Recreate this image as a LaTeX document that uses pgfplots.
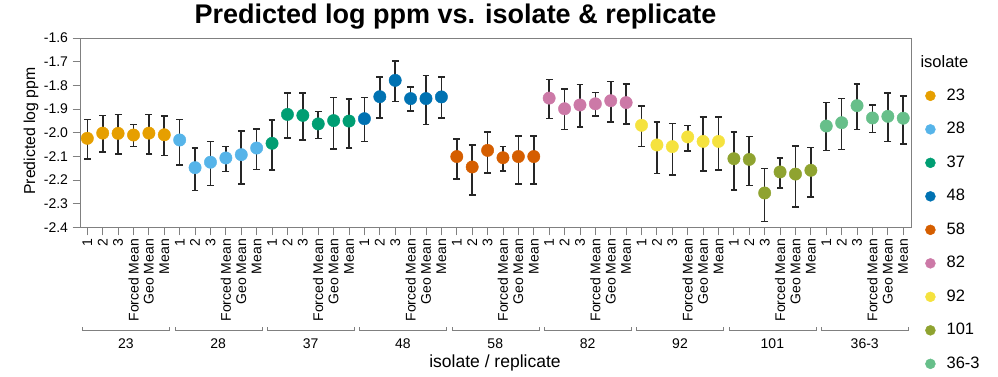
\documentclass[border=0pt]{standalone}
\usepackage{fontspec}
\setmainfont{Liberation Sans}
\usepackage{pgfplots}
\pgfplotsset{compat=1.18}
\usepackage{pgfplotstable}
\definecolor{c23}{HTML}{E69F00}
\definecolor{c28}{HTML}{56B4E9}
\definecolor{c37}{HTML}{009E73}
\definecolor{c48}{HTML}{0072B2}
\definecolor{c58}{HTML}{D55E00}
\definecolor{c82}{HTML}{CC79A7}
\definecolor{c92}{HTML}{F5E23E}
\definecolor{c101}{HTML}{8FA330}
\definecolor{c363}{HTML}{67BF8A}
\definecolor{axgray}{HTML}{808080}

\pgfplotstableread{
x y hi lo
0 -2.024 -1.944 -2.111
1 -2.002 -1.927 -2.083
2 -2.003 -1.923 -2.090
3 -2.010 -1.965 -2.058
4 -2.002 -1.923 -2.089
5 -2.009 -1.930 -2.096
6 -2.031 -1.944 -2.137
7 -2.148 -2.065 -2.244
8 -2.125 -2.038 -2.224
9 -2.107 -2.058 -2.165
10 -2.093 -1.992 -2.218
11 -2.065 -1.985 -2.155
12 -2.045 -1.947 -2.159
13 -1.923 -1.832 -2.023
14 -1.927 -1.832 -2.032
15 -1.963 -1.910 -2.024
16 -1.949 -1.851 -2.070
17 -1.951 -1.858 -2.066
18 -1.941 -1.852 -2.038
19 -1.848 -1.766 -1.937
20 -1.779 -1.696 -1.868
21 -1.856 -1.808 -1.909
22 -1.856 -1.759 -1.966
23 -1.849 -1.766 -1.938
24 -2.101 -2.026 -2.197
25 -2.145 -2.052 -2.263
26 -2.075 -1.996 -2.171
27 -2.106 -2.059 -2.163
28 -2.101 -2.013 -2.216
29 -2.101 -2.014 -2.216
30 -1.854 -1.775 -1.941
31 -1.899 -1.816 -1.986
32 -1.883 -1.797 -1.975
33 -1.878 -1.831 -1.930
34 -1.865 -1.783 -1.954
35 -1.873 -1.794 -1.963
36 -1.969 -1.887 -2.059
37 -2.052 -1.955 -2.172
38 -2.059 -1.962 -2.178
39 -2.018 -1.969 -2.078
40 -2.037 -1.935 -2.163
41 -2.037 -1.935 -2.159
42 -2.110 -1.996 -2.242
43 -2.113 -2.017 -2.223
44 -2.255 -2.151 -2.376
45 -2.166 -2.106 -2.234
46 -2.175 -2.056 -2.314
47 -2.159 -2.062 -2.271
48 -1.972 -1.873 -2.076
49 -1.958 -1.855 -2.072
50 -1.886 -1.794 -1.986
51 -1.938 -1.883 -2.000
52 -1.931 -1.832 -2.037
53 -1.939 -1.846 -2.047
}\data

\pgfplotsset{
  ebar/.style={only marks, mark=none, forget plot,
    error bars/.cd, y dir=both, y explicit,
    error bar style={line width=1.6pt, black!85},
    error mark options={rotate=90, mark size=3.4pt, line width=1.6pt, black!85}},
  grp/.style={only marks, mark=*, mark size=6.2pt, forget plot,
    mark options={draw=#1, fill=#1}},
}
\newcommand{\grp}[3]{%
  \addplot[restrict x to domain=#2:#3, ebar] table[x=x, y=y,
    y error plus expr=\thisrow{hi}-\thisrow{y},
    y error minus expr=\thisrow{y}-\thisrow{lo}] {\data};
  \addplot[restrict x to domain=#2:#3, grp=#1] table[x=x, y=y] {\data};}

\begin{document}
\begin{tikzpicture}
\useasboundingbox (0pt,0pt) rectangle (998pt,-377pt);
\begin{axis}[
  at={(80.7pt,-227.3pt)}, anchor=south west,
  width=831pt, height=189.3pt, scale only axis,
  xmin=-0.43, xmax=53.55, ymin=-2.4, ymax=-1.6,
  clip=false,
  axis line style={axgray, line width=0.9pt},
  tick style={axgray, line width=0.9pt},
  tick align=outside, major tick length=8pt,
  tick pos=left,
  xtick={0,...,53},
  xticklabels={1,2,3,Forced Mean,Geo Mean,Mean,1,2,3,Forced Mean,Geo Mean,Mean,1,2,3,Forced Mean,Geo Mean,Mean,1,2,3,Forced Mean,Geo Mean,Mean,1,2,3,Forced Mean,Geo Mean,Mean,1,2,3,Forced Mean,Geo Mean,Mean,1,2,3,Forced Mean,Geo Mean,Mean,1,2,3,Forced Mean,Geo Mean,Mean,1,2,3,Forced Mean,Geo Mean,Mean},
  xticklabel style={rotate=90, anchor=east, font=\fontsize{14}{16}\selectfont, inner sep=3.5pt},
  ytick={-2.4,-2.3,-2.2,-2.1,-2.0,-1.9,-1.8,-1.7,-1.6},
  yticklabels={-2.4,-2.3,-2.2,-2.1,-2.0,-1.9,-1.8,-1.7,-1.6},
  yticklabel style={font=\fontsize{14}{16}\selectfont, inner sep=4.5pt},
  legend style={draw=none, fill=none, at={(axis description cs:1.0124,0.751)}, anchor=north west,
    font=\fontsize{16.5}{18}\selectfont, row sep=16.5pt, column sep=10pt,
    nodes={inner sep=1pt, text height=12pt, text depth=3pt}},
  legend cell align=left,
  legend image code/.code={\fill[#1] (0pt,0pt) circle (5pt);},
]
\grp{c23}{-0.1}{5.1}
\grp{c28}{5.9}{11.1}
\grp{c37}{11.9}{17.1}
\grp{c48}{17.9}{23.1}
\grp{c58}{23.9}{29.1}
\grp{c82}{29.9}{35.1}
\grp{c92}{35.9}{41.1}
\grp{c101}{41.9}{47.1}
\grp{c363}{47.9}{53.1}
\addlegendimage{c23}\addlegendentry{23}
\addlegendimage{c28}\addlegendentry{28}
\addlegendimage{c37}\addlegendentry{37}
\addlegendimage{c48}\addlegendentry{48}
\addlegendimage{c58}\addlegendentry{58}
\addlegendimage{c82}\addlegendentry{82}
\addlegendimage{c92}\addlegendentry{92}
\addlegendimage{c101}\addlegendentry{101}
\addlegendimage{c363}\addlegendentry{36-3}
% group brackets
\foreach \g/\n in {0/23,1/28,2/37,3/48,4/58,5/82,6/92,7/101,8/36-3}{
  \edef\tmp{\noexpand\draw[axgray, line width=0.9pt] ([yshift=-99.7pt]axis cs:{6*\g-0.3},-2.4) -- ([yshift=-102.7pt]axis cs:{6*\g-0.3},-2.4) -- ([yshift=-102.7pt]axis cs:{6*\g+5.35},-2.4) -- ([yshift=-99.7pt]axis cs:{6*\g+5.35},-2.4);
  \noexpand\node[font=\noexpand\fontsize{14}{16}\noexpand\selectfont] at ([yshift=-116.5pt]axis cs:{6*\g+2.5},-2.4) {\n};}
  \tmp
}
\end{axis}
\node[font=\bfseries\fontsize{27}{30}\selectfont] at (455.5pt,-17pt) {Predicted log ppm vs. isolate \& replicate};
\node[font=\fontsize{17.5}{20}\selectfont] at (495pt,-363pt) {isolate / replicate};
\node[font=\fontsize{15.8}{18}\selectfont, rotate=90] at (31pt,-131pt) {Predicted log ppm};
\node[font=\fontsize{16.5}{18}\selectfont, anchor=west] at (917pt,-62pt) {isolate};
\end{tikzpicture}
\end{document}
